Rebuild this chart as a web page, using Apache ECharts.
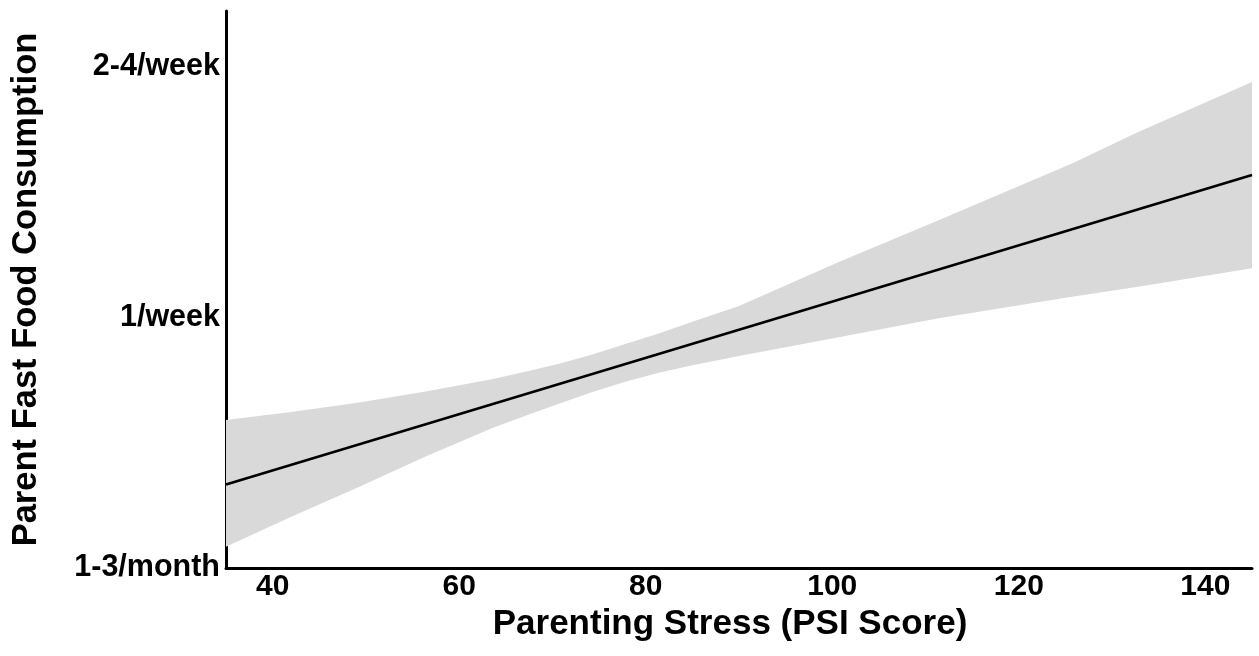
<!DOCTYPE html>
<html>
<head>
<meta charset="utf-8">
<script src="https://cdn.jsdelivr.net/npm/echarts@6/dist/echarts.min.js"></script>
<style>
  html, body { margin: 0; padding: 0; background: #fff; }
  #chart { width: 1259px; height: 656px; }
</style>
</head>
<body>
<div id="chart"></div>
<script>
// ---- data ----
const yCategoryLabels = { 1: '1-3/month', 2: '1/week', 3: '2-4/week' };
const xTickValues = [40, 60, 80, 100, 120, 140];

// regression line (PSI score, consumption level)
const lineX = [35, 145];
const lineY = [1.333, 2.566];

// confidence band edges
const bandX     = [35,    42,    49.3,  56.4,  63.5,  67.1,  70.7,  74.2,  77.8,  81.4,  85,    90,    100.7, 111.4, 125.7, 132.8, 145];
const bandUpper = [1.590, 1.622, 1.660, 1.703, 1.752, 1.782, 1.814, 1.850, 1.893, 1.935, 1.981, 2.044, 2.220, 2.386, 2.612, 2.738, 2.937];
const bandLower = [1.085, 1.204, 1.324, 1.444, 1.557, 1.607, 1.655, 1.700, 1.742, 1.778, 1.808, 1.845, 1.920, 1.995, 2.081, 2.121, 2.195];

const FONT = 'Liberation Sans, Arial, sans-serif';

const chart = echarts.init(document.getElementById('chart'));
chart.setOption({
  animation: false,
  backgroundColor: '#ffffff',
  grid: { left: 226, right: 7, top: 11, bottom: 88, containLabel: false },
  xAxis: {
    type: 'value',
    min: 35,
    max: 145,
    name: 'Parenting Stress (PSI Score)',
    nameLocation: 'middle',
    nameGap: 36,
    nameTextStyle: { fontFamily: FONT, fontWeight: 'bold', fontSize: 35, color: '#000', padding: [0, 18, 0, 0] },
    axisLine: { show: true, onZero: false, lineStyle: { color: '#000', width: 3 } },
    axisTick: { show: false },
    splitLine: { show: false },
    axisLabel: {
      fontFamily: FONT, fontWeight: 'bold', fontSize: 30, color: '#000', margin: 4,
      formatter: v => xTickValues.indexOf(v) >= 0 ? String(v) : ''
    }
  },
  yAxis: {
    type: 'value',
    min: 1,
    max: 3.22,
    interval: 1,
    name: 'Parent Fast Food Consumption',
    nameLocation: 'middle',
    nameGap: 182,
    nameTextStyle: { fontFamily: FONT, fontWeight: 'bold', fontSize: 34.5, color: '#000' },
    axisLine: { show: true, onZero: false, lineStyle: { color: '#000', width: 3 } },
    axisTick: { show: false },
    splitLine: { show: false },
    axisLabel: {
      fontFamily: FONT, fontWeight: 'bold', fontSize: 30.5, color: '#000', margin: 6,
      formatter: v => yCategoryLabels[v] || ''
    }
  },
  series: [
    {
      type: 'custom',
      coordinateSystem: 'cartesian2d',
      data: [[bandX[0], bandLower[0]]],
      silent: true,
      z: 1,
      renderItem: function (params, api) {
        const pts = [];
        for (let i = 0; i < bandX.length; i++) pts.push(api.coord([bandX[i], bandUpper[i]]));
        for (let i = bandX.length - 1; i >= 0; i--) pts.push(api.coord([bandX[i], bandLower[i]]));
        return {
          type: 'polygon',
          shape: { points: pts },
          style: { fill: '#d9d9d9', stroke: null }
        };
      }
    },
    {
      type: 'line',
      data: lineX.map((x, i) => [x, lineY[i]]),
      symbol: 'none',
      lineStyle: { color: '#000', width: 2.6 },
      z: 3
    }
  ]
});
</script>
</body>
</html>
